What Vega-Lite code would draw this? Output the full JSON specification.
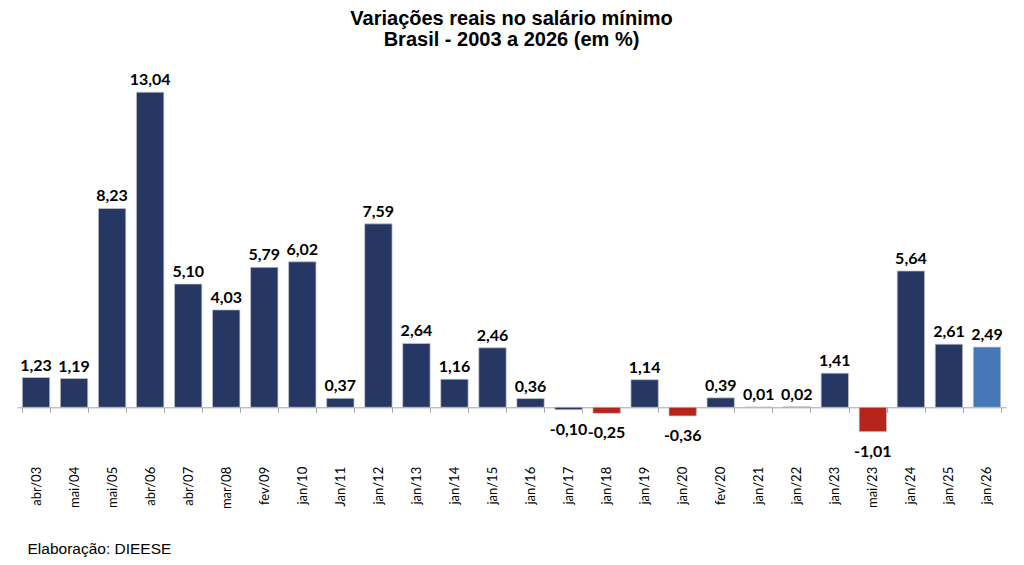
{
  "$schema": "https://vega.github.io/schema/vega-lite/v6.json",
  "width": 989,
  "height": 374.5,
  "autosize": {"type": "none"},
  "padding": {"left": 17, "top": 69, "right": 18, "bottom": 121.5},
  "config": {
    "locale": {"number": {"decimal": ",", "thousands": ".", "grouping": [3], "currency": ["R$", ""], "minus": "-"}},
    "view": {"stroke": null},
    "background": "white"
  },
  "title": {
    "text": ["Variações reais no salário mínimo", "Brasil - 2003 a 2026 (em %)"],
    "font": "Liberation Sans",
    "fontSize": 20,
    "fontWeight": "bold",
    "color": "#000000",
    "anchor": "middle",
    "lineHeight": 21,
    "offset": 19
  },
  "data": {
    "values": [
      {"periodo": "abr/03", "variacao": 1.23, "grupo": "real"},
      {"periodo": "mai/04", "variacao": 1.19, "grupo": "real"},
      {"periodo": "mai/05", "variacao": 8.23, "grupo": "real"},
      {"periodo": "abr/06", "variacao": 13.04, "grupo": "real"},
      {"periodo": "abr/07", "variacao": 5.10, "grupo": "real"},
      {"periodo": "mar/08", "variacao": 4.03, "grupo": "real"},
      {"periodo": "fev/09", "variacao": 5.79, "grupo": "real"},
      {"periodo": "jan/10", "variacao": 6.02, "grupo": "real"},
      {"periodo": "Jan/11", "variacao": 0.37, "grupo": "real"},
      {"periodo": "jan/12", "variacao": 7.59, "grupo": "real"},
      {"periodo": "jan/13", "variacao": 2.64, "grupo": "real"},
      {"periodo": "jan/14", "variacao": 1.16, "grupo": "real"},
      {"periodo": "jan/15", "variacao": 2.46, "grupo": "real"},
      {"periodo": "jan/16", "variacao": 0.36, "grupo": "real"},
      {"periodo": "jan/17", "variacao": -0.10, "grupo": "real"},
      {"periodo": "jan/18", "variacao": -0.25, "grupo": "negativo"},
      {"periodo": "jan/19", "variacao": 1.14, "grupo": "real"},
      {"periodo": "jan/20", "variacao": -0.36, "grupo": "negativo"},
      {"periodo": "fev/20", "variacao": 0.39, "grupo": "real"},
      {"periodo": "jan/21", "variacao": 0.01, "grupo": "real"},
      {"periodo": "jan/22", "variacao": 0.02, "grupo": "real"},
      {"periodo": "jan/23", "variacao": 1.41, "grupo": "real"},
      {"periodo": "mai/23", "variacao": -1.01, "grupo": "negativo"},
      {"periodo": "jan/24", "variacao": 5.64, "grupo": "real"},
      {"periodo": "jan/25", "variacao": 2.61, "grupo": "real"},
      {"periodo": "jan/26", "variacao": 2.49, "grupo": "atual"}
    ]
  },
  "encoding": {
    "x": {
      "field": "periodo",
      "type": "nominal",
      "sort": null,
      "scale": {"paddingInner": 0.28, "paddingOuter": 0.14},
      "axis": {
        "offset": -36.2,
        "labelAngle": -90,
        "labelAlign": "right",
        "labelBaseline": "middle",
        "labelPadding": 54,
        "labelFont": "Lato",
        "labelFontSize": 13,
        "labelColor": "#000000",
        "domainColor": "#a6a6a6",
        "tickColor": "#a6a6a6",
        "tickSize": 5,
        "tickBand": "extent",
        "title": "Elaboração: DIEESE",
        "titleFont": "Liberation Sans",
        "titleFontSize": 15.5,
        "titleFontWeight": "normal",
        "titleColor": "#000000",
        "titleAnchor": "start",
        "titleAlign": "left",
        "titleBaseline": "middle",
        "titleX": 10,
        "titleY": 141
      }
    },
    "y": {
      "field": "variacao",
      "type": "quantitative",
      "scale": {"domain": [-1.5, 14], "nice": false, "zero": false},
      "axis": null
    }
  },
  "layer": [
    {
      "mark": {"type": "bar", "stroke": "#c8c8c8", "strokeWidth": 0.7},
      "encoding": {
        "color": {
          "field": "grupo",
          "type": "nominal",
          "scale": {"domain": ["real", "negativo", "atual"], "range": ["#263763", "#b5251c", "#4677b6"]},
          "legend": null
        }
      }
    },
    {
      "transform": [{"filter": "datum.variacao >= 0"}],
      "mark": {"type": "text", "baseline": "bottom", "dy": -4, "font": "Lato", "fontWeight": "bold", "fontSize": 16, "color": "#000000"},
      "encoding": {"text": {"field": "variacao", "type": "quantitative", "format": ".2f"}}
    },
    {
      "transform": [{"filter": "datum.variacao < 0"}],
      "mark": {"type": "text", "baseline": "top", "dy": 12, "font": "Lato", "fontWeight": "bold", "fontSize": 16, "color": "#000000"},
      "encoding": {"text": {"field": "variacao", "type": "quantitative", "format": ".2f"}}
    }
  ]
}
